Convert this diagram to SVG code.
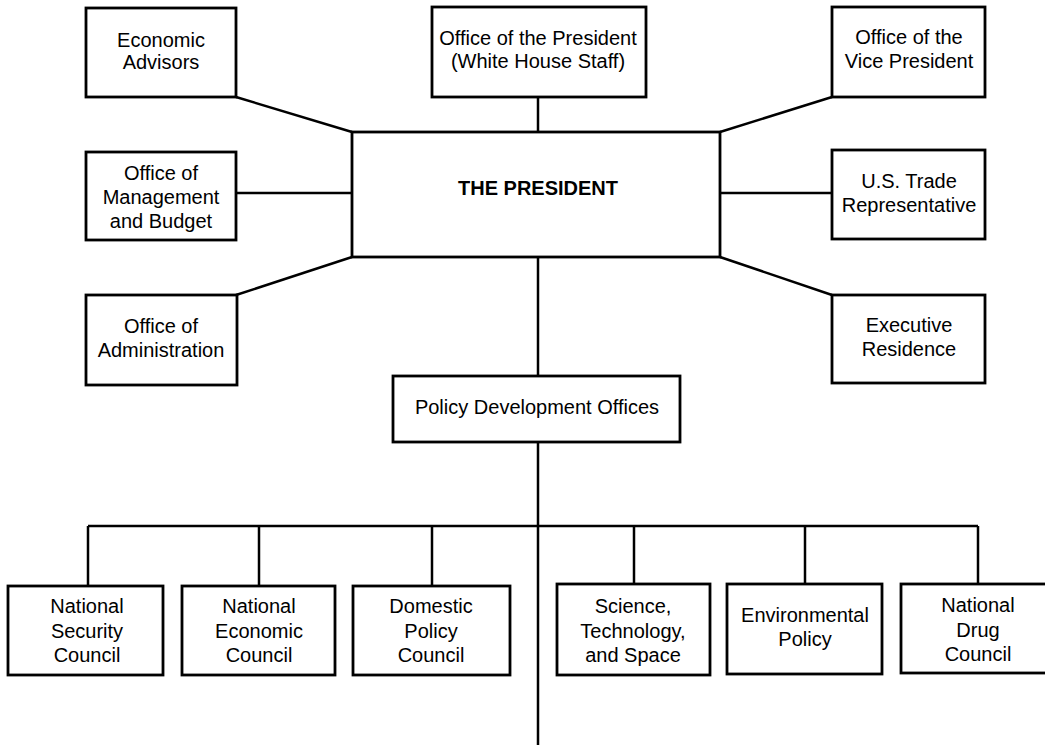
<svg xmlns="http://www.w3.org/2000/svg" width="1045" height="745" viewBox="0 0 1045 745">
<style>
.box{fill:#fff;stroke:#000;stroke-width:2.8}
.ln{fill:none;stroke:#000;stroke-width:2.5}
text{font-family:"Liberation Sans",Arial,sans-serif;font-size:20px;fill:#000;text-anchor:middle}
.b{font-weight:bold;font-size:20px}
</style>
<rect width="1045" height="745" fill="#fff"/>
<g id="connectors">
<line class="ln" x1="236" y1="97" x2="352" y2="132"/>
<line class="ln" x1="236" y1="193" x2="352" y2="193"/>
<line class="ln" x1="236" y1="295" x2="352" y2="257"/>
<line class="ln" x1="538" y1="97" x2="538" y2="132"/>
<line class="ln" x1="720" y1="132" x2="832" y2="97"/>
<line class="ln" x1="720" y1="193" x2="832" y2="193"/>
<line class="ln" x1="720" y1="257" x2="832" y2="295"/>
<line class="ln" x1="538" y1="257" x2="538" y2="376"/>
<line class="ln" x1="538" y1="442" x2="538" y2="745"/>
<line class="ln" x1="88" y1="526" x2="978" y2="526"/>
<line class="ln" x1="88" y1="526" x2="88" y2="586"/>
<line class="ln" x1="259" y1="526" x2="259" y2="586"/>
<line class="ln" x1="432" y1="526" x2="432" y2="586"/>
<line class="ln" x1="634" y1="526" x2="634" y2="584"/>
<line class="ln" x1="805" y1="526" x2="805" y2="584"/>
<line class="ln" x1="978" y1="526" x2="978" y2="584"/>
</g>
<g id="economic-advisors"><rect class="box" x="86" y="8" width="150" height="89"/><text x="161" y="47">Economic</text><text x="161" y="69">Advisors</text></g>
<g id="office-of-president"><rect class="box" x="432" y="7" width="214" height="90"/><text x="538" y="45">Office of the President</text><text x="538" y="68">(White House Staff)</text></g>
<g id="vice-president"><rect class="box" x="832" y="7" width="153" height="90"/><text x="909" y="44">Office of the</text><text x="909" y="68">Vice President</text></g>
<g id="omb"><rect class="box" x="86" y="152" width="150" height="88"/><text x="161" y="180">Office of</text><text x="161" y="204">Management</text><text x="161" y="228">and Budget</text></g>
<g id="president"><rect class="box" x="352" y="132" width="368" height="125"/><text class="b" x="538" y="195">THE PRESIDENT</text></g>
<g id="trade"><rect class="box" x="832" y="150" width="153" height="89"/><text x="909" y="188">U.S. Trade</text><text x="909" y="212">Representative</text></g>
<g id="administration"><rect class="box" x="86" y="295" width="151" height="90"/><text x="161" y="333">Office of</text><text x="161" y="357">Administration</text></g>
<g id="residence"><rect class="box" x="832" y="295" width="153" height="88"/><text x="909" y="332">Executive</text><text x="909" y="356">Residence</text></g>
<g id="policy-development"><rect class="box" x="393" y="376" width="287" height="66"/><text x="537" y="414">Policy Development Offices</text></g>
<g id="nsc"><rect class="box" x="8" y="586" width="155" height="89"/><text x="87" y="613">National</text><text x="87" y="638">Security</text><text x="87" y="662">Council</text></g>
<g id="nec"><rect class="box" x="182" y="586" width="153" height="89"/><text x="259" y="613">National</text><text x="259" y="638">Economic</text><text x="259" y="662">Council</text></g>
<g id="dpc"><rect class="box" x="353" y="586" width="157" height="89"/><text x="431" y="613">Domestic</text><text x="431" y="638">Policy</text><text x="431" y="662">Council</text></g>
<g id="sts"><rect class="box" x="557" y="584" width="153" height="91"/><text x="633" y="613">Science,</text><text x="633" y="638">Technology,</text><text x="633" y="662">and Space</text></g>
<g id="environmental"><rect class="box" x="727" y="584" width="155" height="90"/><text x="805" y="622">Environmental</text><text x="805" y="646">Policy</text></g>
<g id="drug"><rect class="box" x="901" y="584" width="156" height="89"/><text x="978" y="612">National</text><text x="978" y="637">Drug</text><text x="978" y="661">Council</text></g>
</svg>
